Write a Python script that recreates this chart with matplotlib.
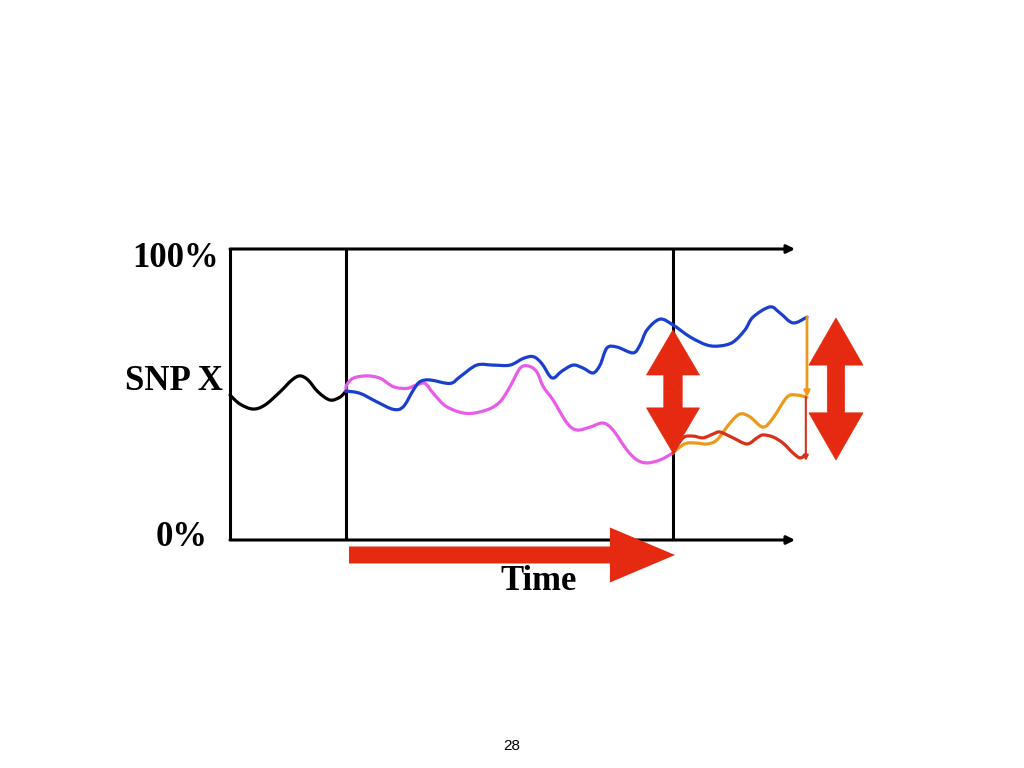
import matplotlib
matplotlib.use("Agg")
import matplotlib.pyplot as plt
from matplotlib.patches import FancyArrow, PathPatch
from matplotlib.path import Path

# time in arbitrary units, allele frequency of SNP X in %
t_black = [0, 1.74, 4.0, 6.08, 8.68, 10.76, 12.15, 13.54, 15.28, 17.36, 19.1, 20.14]
f_black = [49.8, 46.7, 45.0, 46.4, 50.9, 55.0, 56.4, 55.0, 50.9, 48.1, 49.1, 51.2]

t_pink = [20.14, 20.26, 21.41, 23.73, 26.04, 28.35, 30.68, 32.41, 33.85, 35.3, 37.62,
          41.09, 44.57, 46.88, 48.61, 50.35, 51.79, 53.25, 54.39, 56.08, 58.51, 60.24,
          62.5, 64.76, 66.49, 68.92, 70.66, 72.4, 74.65, 76.91]
f_pink = [51.2, 53.3, 55.6, 56.4, 55.6, 52.7, 52.1, 53.3, 53.8, 50.4, 45.8,
          43.5, 44.7, 47.5, 52.7, 59.0, 59.8, 57.8, 52.7, 48.1, 40.2, 37.8,
          38.8, 40.2, 37.8, 30.9, 27.5, 26.5, 27.5, 29.9]

t_blue = [20.14, 22.57, 25.47, 28.35, 30.09, 31.82, 32.99, 34.72, 38.19, 39.93, 42.83,
          45.71, 48.61, 50.92, 52.66, 54.11, 55.9, 57.6, 59.55, 61.28, 63.02, 64.24,
          65.45, 67.19, 69.97, 71.18, 72.4, 74.65, 76.91, 79.86, 82.81, 85.07, 87.33,
          89.41, 90.8, 93.75, 95.49, 97.74, 100.17]
f_blue = [51.2, 50.4, 47.5, 44.9, 45.8, 51.5, 54.4, 55.0, 53.8, 56.1, 60.1,
          60.1, 60.1, 62.4, 63.0, 60.7, 55.7, 58.0, 60.1, 59.1, 57.4, 60.1,
          66.0, 66.3, 64.3, 67.0, 72.2, 75.9, 73.9, 69.8, 67.0, 66.7, 68.0,
          72.2, 76.6, 80.1, 78.0, 74.6, 76.6]

t_orange = [76.91, 78.13, 79.34, 81.08, 82.81, 84.55, 86.81, 88.54, 90.28, 92.53,
            94.27, 96.7, 98.44, 100.17]
f_orange = [29.9, 32.0, 33.3, 33.3, 33.0, 34.4, 40.2, 43.3, 42.3, 38.8,
            41.9, 49.1, 49.8, 49.1]

t_red = [76.91, 78.65, 80.38, 82.12, 83.85, 85.07, 87.33, 89.76, 91.49, 92.53,
         94.27, 96.01, 97.74, 98.96, 99.83]
f_red = [29.9, 35.1, 35.7, 35.1, 36.4, 37.1, 35.1, 33.0, 35.1, 36.1,
         35.4, 33.3, 29.9, 28.2, 29.2]

t_split = [20.14, 76.91]
t_end = 100.17

BLUE = "#1a3fd0"
PINK = "#e85ce8"
ORANGE = "#eb9a1f"
RED = "#d8311a"
BIG = "#e62a12"

fig = plt.figure(figsize=(10.24, 7.68), dpi=100)
ax = fig.add_axes([0, 0, 1, 1])
# 1 time unit = 5.76 px, 1 % = 2.91 px
ax.set_xlim(-230 / 5.76, (1024 - 230) / 5.76)
ax.set_ylim(-(768 - 540) / 2.91, 540 / 2.91)
ax.axis("off")

lw_axis = 2.2
ax.plot([0, 0], [0, 100], color="black", lw=lw_axis, solid_capstyle="butt")
for ts in t_split:
    ax.plot([ts, ts], [0, 100], color="black", lw=lw_axis, solid_capstyle="butt")
for yy in [0, 100]:
    ax.annotate("", xy=(98.1, yy), xytext=(0, yy),
                arrowprops=dict(arrowstyle="-|>", color="black", lw=lw_axis,
                                mutation_scale=12, shrinkA=0, shrinkB=0))


# smooth curve through the read points (Catmull-Rom as cubic Beziers)
def smooth_line(xs, ys, color, lw=2.3):
    pts = list(zip(xs, ys))
    verts = [pts[0]]
    codes = [Path.MOVETO]
    n = len(pts)
    for i in range(n - 1):
        p0 = pts[i - 1] if i > 0 else pts[i]
        p1 = pts[i]
        p2 = pts[i + 1]
        p3 = pts[i + 2] if i + 2 < n else pts[i + 1]
        c1 = (p1[0] + (p2[0] - p0[0]) / 6, p1[1] + (p2[1] - p0[1]) / 6)
        c2 = (p2[0] - (p3[0] - p1[0]) / 6, p2[1] - (p3[1] - p1[1]) / 6)
        verts += [c1, c2, p2]
        codes += [Path.CURVE4] * 3
    ax.add_patch(PathPatch(Path(verts, codes), fill=False, edgecolor=color, lw=lw,
                           capstyle="round", joinstyle="round", zorder=3))


smooth_line(t_black, f_black, "black")
smooth_line(t_pink, f_pink, PINK)
smooth_line(t_blue, f_blue, BLUE)
smooth_line(t_orange, f_orange, ORANGE)
smooth_line(t_red, f_red, RED)

# drops at the end
ax.annotate("", xy=(t_end, f_orange[-1]), xytext=(t_end, f_blue[-1]),
            arrowprops=dict(arrowstyle="-|>", color=ORANGE, lw=2.0,
                            mutation_scale=8, shrinkA=0, shrinkB=0))
ax.annotate("", xy=(t_end - 0.2, f_red[-1] - 2), xytext=(t_end - 0.2, f_orange[-1]),
            arrowprops=dict(arrowstyle="-|>", color=RED, lw=1.5,
                            mutation_scale=7, shrinkA=0, shrinkB=0))


def double_arrow(x, top, bottom, shaft, head_w, head_l):
    mid = (top + bottom) / 2
    for end in (top, bottom):
        ax.add_patch(FancyArrow(x, mid, 0, end - mid, width=shaft, head_width=head_w,
                                head_length=head_l, length_includes_head=True,
                                color=BIG, lw=0.5, zorder=5))


double_arrow(76.91, 72.2, 29.9, 3.2, 9.2, 15.5)
double_arrow(105.2, 76.3, 27.5, 3.0, 9.4, 16.2)

# time arrow
ax.add_patch(FancyArrow(20.66, -5.15, 56.6, 0, width=5.84, head_width=18.9,
                        head_length=11.3, length_includes_head=True,
                        color=BIG, lw=0, zorder=5))

serif = dict(family="Liberation Serif", fontweight="bold", fontsize=25)
ax.text(-1.9, 96.9, "100%", ha="right", va="center", **serif)
ax.text(-1.3, 54.3, "SNP X", ha="right", va="center", **serif)
ax.text(-3.9, 1.0, "0%", ha="right", va="center", **serif)
ax.text(53.5, -14.4, "Time", ha="center", va="center", **serif)
ax.text(48.96, -70.8, "28", ha="center", va="center", family="Liberation Sans", fontsize=11)

fig.savefig("out.png", dpi=100)
